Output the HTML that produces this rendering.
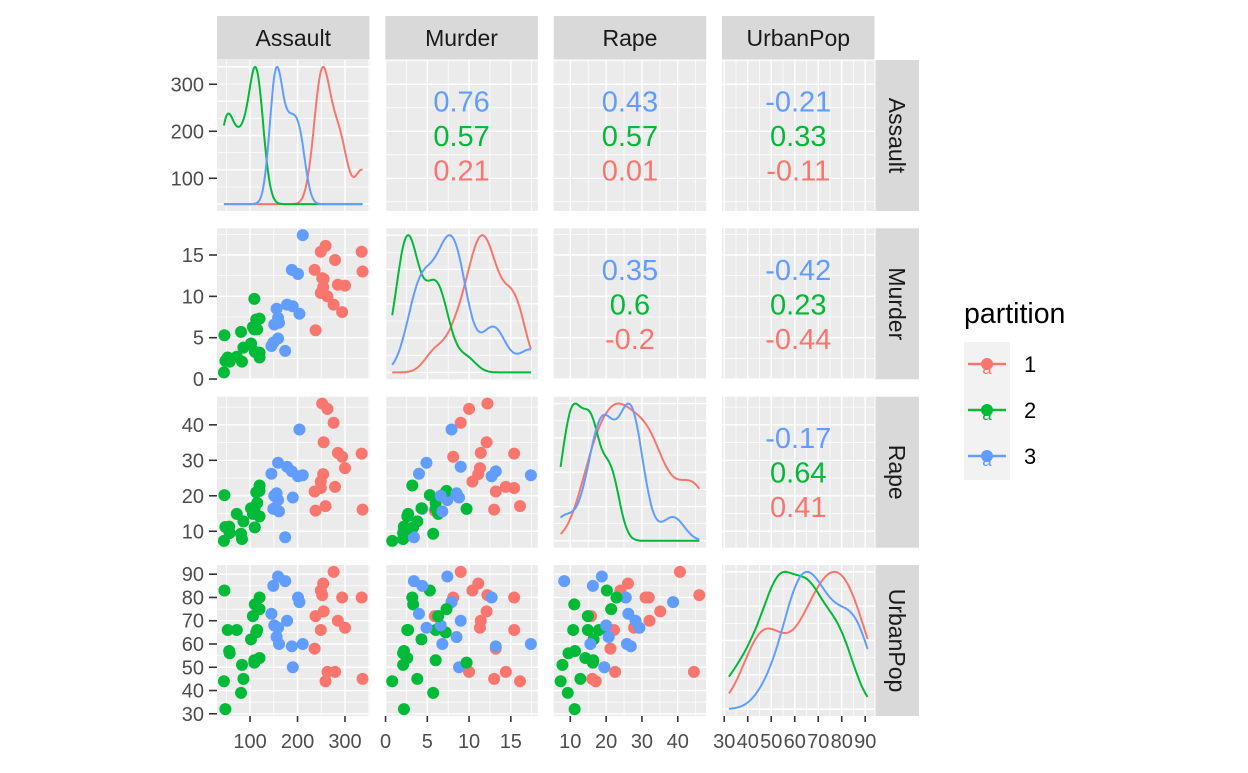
<!DOCTYPE html>
<html><head><meta charset="utf-8"><style>
body{margin:0;background:#fff;}
svg{font-family:"Liberation Sans",sans-serif;}
</style></head><body>
<svg id="c" width="1248" height="768" viewBox="0 0 1248 768"></svg>
<script>
const vars=["Assault","Murder","Rape","UrbanPop"];
const murder=[13.2,10.0,8.1,8.8,9.0,7.9,3.3,5.9,15.4,17.4,5.3,2.6,10.4,7.2,2.2,6.0,9.7,15.4,2.1,11.3,4.4,12.1,2.7,16.1,9.0,6.0,4.3,12.2,2.1,7.4,11.4,11.1,13.0,0.8,7.3,6.6,4.9,6.3,3.4,14.4,3.8,13.2,12.7,3.2,2.2,8.5,4.0,5.7,2.6,6.8];
const assault=[236,263,294,190,276,204,110,238,335,211,46,120,249,113,56,115,109,249,83,300,149,255,72,259,178,109,102,252,57,159,285,254,337,45,120,151,159,106,174,279,86,188,201,120,48,156,145,81,53,161];
const urbanpop=[58,48,80,50,91,78,77,72,80,60,83,54,83,65,57,66,52,66,51,67,85,74,66,44,70,53,62,81,56,89,70,86,45,44,75,68,67,72,87,48,45,59,80,80,32,63,73,39,66,60];
const rape=[21.2,44.5,31.0,19.5,40.6,38.7,11.1,15.8,31.9,25.8,20.2,14.2,24.0,21.0,11.3,18.0,16.3,22.2,7.8,27.8,16.3,35.1,14.9,17.1,28.2,16.4,16.5,46.0,9.5,18.8,32.1,26.1,16.1,7.3,21.4,20.0,29.3,14.9,8.3,22.5,12.8,26.9,25.5,22.9,11.2,20.7,26.2,9.3,10.8,15.6];
const partition=[1,1,1,3,1,3,2,1,1,3,2,2,1,2,2,2,2,1,2,1,3,1,2,1,3,2,2,1,2,3,1,1,1,2,2,3,3,2,3,1,2,3,3,2,2,3,3,2,2,3];
const corText=[["","0.76|0.57|0.21","0.43|0.57|0.01","-0.21|0.33|-0.11"],["","","0.35|0.6|-0.2","-0.42|0.23|-0.44"],["","","","-0.17|0.64|0.41"]];
const breaks=[[100,200,300],[0,5,10,15],[10,20,30,40],[30,40,50,60,70,80,90]];
const minors=[[50,150,250,350],[2.5,7.5,12.5,17.5],[15,25,35,45],[35,45,55,65,75,85]];
const data=[assault,murder,rape,urbanpop];
const cols={1:"#F8766D",2:"#00BA38",3:"#619CFF"};
const svg=document.getElementById('c');const NS="http://www.w3.org/2000/svg";
function mk(t,a,p){const e=document.createElementNS(NS,t);for(const k in a)e.setAttribute(k,a[k]);(p||svg).appendChild(e);return e;}
const PX=[217,385.3,553.7,722],PY=[60,228.3,396.7,565],PW=152.5,PH=151;
function rng(v){const mn=Math.min(...v),mx=Math.max(...v),d=(mx-mn)*0.05;return [mn-d,mx+d,mn,mx];}
const R=data.map(rng);
function sx(j,v){return PX[j]+(v-R[j][0])/(R[j][1]-R[j][0])*PW;}
function sy(i,v){return PY[i]+PH-(v-R[i][0])/(R[i][1]-R[i][0])*PH;}
function q(a,p){const s=[...a].sort((x,y)=>x-y);const h=(s.length-1)*p,l=Math.floor(h);return s[l]+(h-l)*((s[l+1]??s[l])-s[l]);}
function kde(v,lo,hi){const n=v.length,m=v.reduce((a,b)=>a+b,0)/n;const sd=Math.sqrt(v.reduce((a,b)=>a+(b-m)**2,0)/(n-1));const iqr=(q(v,.75)-q(v,.25))/1.34;let lo2=Math.min(sd,iqr);if(!(lo2>0))lo2=sd;const bw=0.9*lo2*Math.pow(n,-0.2);const out=[];for(let k=0;k<=200;k++){const x=lo+(hi-lo)*k/200;let d=0;for(const xi of v)d+=Math.exp(-0.5*((x-xi)/bw)**2);out.push([x,d]);}const mx=Math.max(...out.map(o=>o[1]));return out.map(o=>[o[0],o[1]/mx]);}
for(let i=0;i<4;i++)for(let j=0;j<4;j++){
 const g=mk('g',{});
 mk('rect',{x:PX[j],y:PY[i],width:PW,height:PH,fill:'#EBEBEB'},g);
 for(const m of minors[j]){const x=sx(j,m);if(x>PX[j]&&x<PX[j]+PW)mk('line',{x1:x,x2:x,y1:PY[i],y2:PY[i]+PH,stroke:'#fff','stroke-width':0.7},g);}
 for(const b of breaks[j]){const x=sx(j,b);if(x>=PX[j]&&x<=PX[j]+PW)mk('line',{x1:x,x2:x,y1:PY[i],y2:PY[i]+PH,stroke:'#fff','stroke-width':1.4},g);}
 if(i===j){
  for(let t=0;t<=1;t+=0.125){const y=PY[i]+PH-(t+0.05)/1.1*PH;mk('line',{x1:PX[j],x2:PX[j]+PW,y1:y,y2:y,stroke:'#fff','stroke-width':(Math.round(t*8)%2?0.7:1.4)},g);}
  for(const p of [1,2,3]){const v=data[j].filter((_,k)=>partition[k]===p);const d=kde(v,R[j][2],R[j][3]);
   const pts=d.map(o=>sx(j,o[0]).toFixed(1)+','+(PY[i]+PH-(o[1]+0.05)/1.1*PH).toFixed(1)).join(' ');
   const pl=mk('polyline',{points:pts,fill:'none',stroke:cols[p],'stroke-width':2},g);}
 } else {
  for(const m of minors[i]){const y=sy(i,m);if(y>PY[i]&&y<PY[i]+PH)mk('line',{x1:PX[j],x2:PX[j]+PW,y1:y,y2:y,stroke:'#fff','stroke-width':0.7},g);}
  for(const b of breaks[i]){const y=sy(i,b);if(y>=PY[i]&&y<=PY[i]+PH)mk('line',{x1:PX[j],x2:PX[j]+PW,y1:y,y2:y,stroke:'#fff','stroke-width':1.4},g);}
  if(i>j){for(let k=0;k<50;k++){const c=mk('circle',{cx:sx(j,data[j][k]),cy:sy(i,data[i][k]),r:6,fill:cols[partition[k]]},g);}}
  else{const parts=corText[i][j].split('|');const cc=[cols[3],cols[2],cols[1]];parts.forEach((s,k)=>{const t=mk('text',{x:PX[j]+PW/2,y:PY[i]+PH/2+(k-1)*34.5+10.5,'text-anchor':'middle','font-size':29,fill:cc[k]},g);t.textContent=s;});}
 }
}
for(let j=0;j<4;j++){mk('rect',{x:PX[j],y:16,width:PW,height:43.5,fill:'#D9D9D9'});const t=mk('text',{x:PX[j]+PW/2,y:46,'text-anchor':'middle','font-size':23,fill:'#1A1A1A'});t.textContent=vars[j];}
for(let i=0;i<4;i++){mk('rect',{x:875.5,y:PY[i],width:43.5,height:PH,fill:'#D9D9D9'});const t=mk('text',{x:0,y:0,'text-anchor':'middle','font-size':23,fill:'#1A1A1A',transform:`translate(889,${PY[i]+PH/2}) rotate(90)`});t.textContent=vars[i];}
for(let i=0;i<4;i++){for(const b of breaks[i]){const y=sy(i,b);if(y<PY[i]||y>PY[i]+PH)continue;mk('line',{x1:209,x2:217,y1:y,y2:y,stroke:'#333','stroke-width':1.6});const t=mk('text',{x:204,y:y+7,'text-anchor':'end','font-size':20,fill:'#4D4D4D'});t.textContent=b;}}
for(let j=0;j<4;j++){for(const b of breaks[j]){const x=sx(j,b);if(x<PX[j]||x>PX[j]+PW)continue;mk('line',{x1:x,x2:x,y1:716,y2:722,stroke:'#333','stroke-width':1.6});const t=mk('text',{x:x,y:748,'text-anchor':'middle','font-size':20,fill:'#4D4D4D'});t.textContent=b;}}
const lt=mk('text',{x:964,y:323,'font-size':28.5,fill:'#000'});lt.textContent='partition';
[1,2,3].forEach((p,k)=>{const y=342+k*46;const g=mk('g',{});
 mk('rect',{x:964,y:y,width:46,height:46,fill:'#F2F2F2'},g);
 mk('line',{x1:968,x2:1006,y1:y+22,y2:y+22,stroke:cols[p],'stroke-width':2.5},g);
 mk('circle',{cx:987,cy:y+22,r:6,fill:cols[p]},g);
 const a=mk('text',{x:987,y:y+32,'text-anchor':'middle','font-size':17,fill:cols[p]},g);a.textContent='a';
 const t=mk('text',{x:1024,y:y+30,'font-size':22,fill:'#000'},g);t.textContent=p;});
</script>
</body></html>
